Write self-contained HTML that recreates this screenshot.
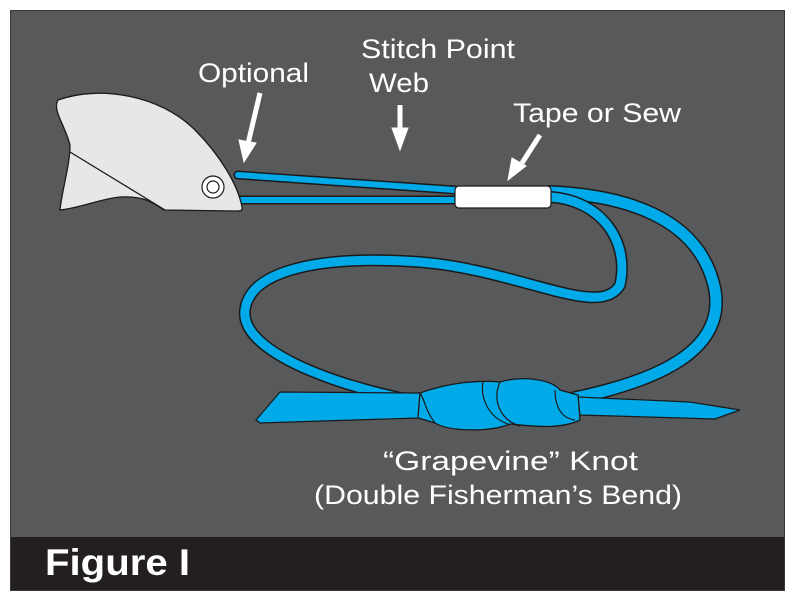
<!DOCTYPE html>
<html><head><style>
html,body{margin:0;padding:0;background:#fff;width:797px;height:605px;overflow:hidden}
svg{position:absolute;left:0;top:0}
text{font-family:"Liberation Sans",Arial,sans-serif;fill:#fff}
</style></head><body>
<svg width="797" height="605" viewBox="0 0 797 605">
<rect x="10.5" y="10.5" width="774" height="580" fill="#58595b" stroke="#3a3a3a"/>
<rect x="11" y="537" width="773" height="53" fill="#231f20"/>
<text x="45" y="575" font-size="37" font-weight="bold" textLength="145" lengthAdjust="spacingAndGlyphs">Figure I</text>

<g fill="none" stroke-linecap="round" stroke-linejoin="round">
<path d="M550,192 C620,195 700,215 715,290 C725,350 660,380 575,398" stroke="#1a1a1a" stroke-width="14"/>
<path d="M550,192 C620,195 700,215 715,290 C725,350 660,380 575,398" stroke="#00a9e8" stroke-width="11"/>
<path d="M550,197 C600,200 630,240 620,285 C600,320 520,270 420,262 C320,255 250,270 245,310 C240,350 330,385 420,402" stroke="#1a1a1a" stroke-width="12"/>
<path d="M550,197 C600,200 630,240 620,285 C600,320 520,270 420,262 C320,255 250,270 245,310 C240,350 330,385 420,402" stroke="#00a9e8" stroke-width="9"/>
<path d="M238,175 L455,190 M240,200 L455,200" stroke="#1a1a1a" stroke-width="9"/>
<path d="M238,175 L455,190 M240,200 L455,200" stroke="#00a9e8" stroke-width="6"/>
</g>
<polygon points="256,420 280,392 420,393 418,418 260,423" fill="#00a9e8" stroke="#1a1a1a" stroke-width="1.2"/>
<polygon points="578,397 690,402 740,410 715,419 580,415" fill="#00a9e8" stroke="#1a1a1a" stroke-width="1.2"/>
<path d="M420,393 C450,382 480,380 500,382 C520,376 550,378 560,390 L578,395 L580,420 C560,430 530,426 510,424 C490,432 450,432 435,423 L418,418 Z" fill="#00a9e8" stroke="#1a1a1a" stroke-width="1.3"/>
<path d="M483,382 C480,400 490,418 508,424 M500,382 C492,400 500,420 520,426 M555,390 C555,405 560,418 575,420 M435,423 C425,410 425,400 420,393" fill="none" stroke="#1a1a1a" stroke-width="1.2"/>
<rect x="455" y="186" width="96" height="22" rx="4" fill="#fff" stroke="#1a1a1a" stroke-width="1.2"/>
<path d="M58,100 C100,85 160,95 195,130 C220,155 238,185 242,207 C243,211 240,211 236,211 L164,210 C150,200 140,196 120,197 C100,199 80,208 60,210 C62,190 70,165 70,145 C65,125 52,110 58,100 Z" fill="#e6e7e8" stroke="#1a1a1a" stroke-width="1.3"/>
<path d="M70,152 L165,210" stroke="#1a1a1a" stroke-width="1.3"/>
<circle cx="213" cy="187" r="11" fill="#fff" stroke="#1a1a1a" stroke-width="1.2"/>
<circle cx="213" cy="187" r="6" fill="#fff" stroke="#1a1a1a" stroke-width="1.2"/>
<g fill="#fff" stroke="#fff">
<line x1="260" y1="93" x2="247" y2="148" stroke-width="5"/>
<polygon points="239,140 244,162 256,143" stroke-width="1"/>
<line x1="400" y1="105" x2="400" y2="132" stroke-width="5"/>
<polygon points="392,128 400,150 408,128" stroke-width="1"/>
<line x1="540" y1="135" x2="522" y2="163" stroke-width="5"/>
<polygon points="512,158 508,180 526,166" stroke-width="1"/>
</g>
<text x="198" y="82" font-size="27" textLength="111" lengthAdjust="spacingAndGlyphs">Optional</text>
<text x="361" y="58" font-size="27" textLength="154" lengthAdjust="spacingAndGlyphs">Stitch Point</text>
<text x="369" y="92" font-size="27" textLength="60" lengthAdjust="spacingAndGlyphs">Web</text>
<text x="513" y="122" font-size="27" textLength="168" lengthAdjust="spacingAndGlyphs">Tape or Sew</text>
<text x="383" y="470" font-size="27" textLength="255" lengthAdjust="spacingAndGlyphs">“Grapevine” Knot</text>
<text x="314" y="504" font-size="27" textLength="368" lengthAdjust="spacingAndGlyphs">(Double Fisherman’s Bend)</text>
</svg>
</body></html>
